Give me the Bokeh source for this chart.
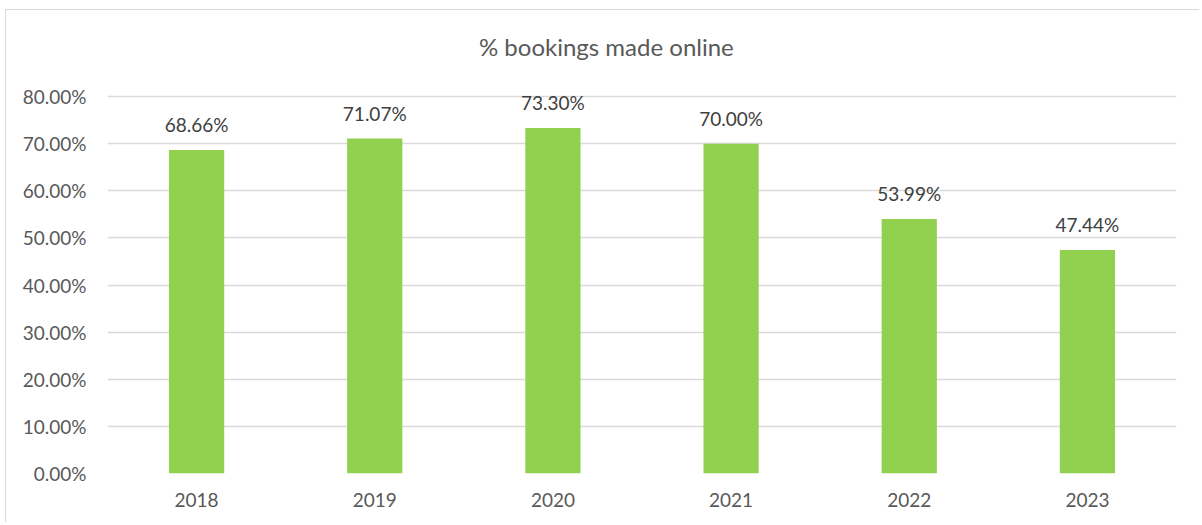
from bokeh.plotting import figure
from bokeh.models import ColumnDataSource, Range1d, NumeralTickFormatter, LabelSet
from bokeh.core.properties import value
from bokeh.transform import dodge
from bokeh.embed import file_html
from bokeh.resources import INLINE

years = ["2018", "2019", "2020", "2021", "2022", "2023"]
share_online = [0.6866, 0.7107, 0.7330, 0.7000, 0.5399, 0.4744]
value_labels = ["68.66%", "71.07%", "73.30%", "70.00%", "53.99%", "47.44%"]
y_ticks = [0.0, 0.1, 0.2, 0.3, 0.4, 0.5, 0.6, 0.7, 0.8]
chart_title = "% bookings made online"

FONT = "Lato"

src = ColumnDataSource(dict(year=years, share=share_online, label=value_labels))

# frame extends above the 80% gridline to hold the centred chart title
p = figure(x_range=years, y_range=Range1d(0, 0.9613), width=1194, height=513,
           output_backend="svg", toolbar_location=None,
           min_border_left=101, min_border_right=24, min_border_top=10, min_border_bottom=50)
p.title = None

p.vbar(x="year", top="share", width=0.31, source=src, fill_color="#92D050", line_color=None)

labels = LabelSet(x="year", y="share", text="label", source=src, text_align="center",
                  text_baseline="alphabetic", y_offset=18, text_font=value(FONT),
                  text_font_size=value("19px"), text_color="#404040")
p.add_layout(labels)

title_src = ColumnDataSource(dict(x=["2020"], y=[0.9061], t=[chart_title]))
p.text(x=dodge("x", 0.30, range=p.x_range), y="y", text="t", source=title_src,
       text_align="center", text_baseline="middle", text_font=value(FONT),
       text_font_size=value("24px"), text_color="#595959")

p.outline_line_color = None
p.background_fill_color = "white"
p.border_fill_color = "white"
p.xgrid.grid_line_color = None
p.ygrid.grid_line_color = "#d9d9d9"
p.ygrid.grid_line_width = 1.5
p.yaxis.ticker = y_ticks
p.yaxis.formatter = NumeralTickFormatter(format="0.00%")
for ax in (p.xaxis, p.yaxis):
    ax.axis_line_color = None
    ax.major_tick_line_color = None
    ax.minor_tick_line_color = None
    ax.major_tick_out = 0
    ax.major_tick_in = 0
    ax.major_label_text_font = FONT
    ax.major_label_text_font_size = "19px"
    ax.major_label_text_color = "#595959"
p.yaxis.major_label_standoff = 21
p.xaxis.major_label_standoff = 19
p.x_range.range_padding = 0
p.styles = {"margin-left": "5px", "margin-top": "9px",
            "border-top": "1px solid #d9d9d9", "border-left": "1px solid #d9d9d9"}

open("out.html", "w").write(file_html(p, INLINE))
